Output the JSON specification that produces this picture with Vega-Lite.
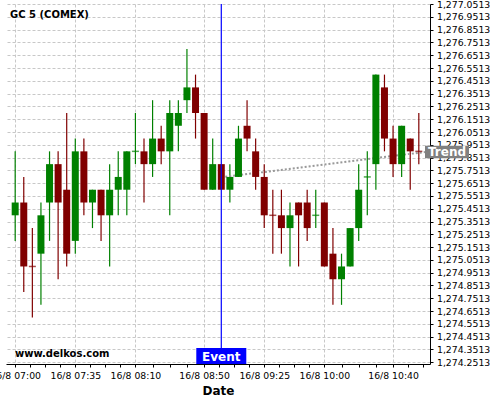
{
  "$schema": "https://vega.github.io/schema/vega-lite/v6.json",
  "autosize": {"type": "none"},
  "padding": {"left": 6, "top": 4, "right": 70, "bottom": 36},
  "width": 424,
  "height": 360,
  "background": "white",
  "config": {
    "view": {"stroke": null},
    "font": "DejaVu Sans",
    "axis": {"labelFont": "DejaVu Sans", "titleFont": "DejaVu Sans"}
  },
  "datasets": {
    "candles": [
      {"time": "2016-08-16 07:00", "open": 1275.4, "high": 1275.9, "low": 1275.2, "close": 1275.5, "dir": "up"},
      {"time": "2016-08-16 07:05", "open": 1275.5, "high": 1275.7, "low": 1274.8, "close": 1275.0, "dir": "down"},
      {"time": "2016-08-16 07:10", "open": 1275.0, "high": 1275.3, "low": 1274.6, "close": 1275.0, "dir": "down"},
      {"time": "2016-08-16 07:15", "open": 1275.1, "high": 1275.5, "low": 1274.7, "close": 1275.4, "dir": "up"},
      {"time": "2016-08-16 07:20", "open": 1275.5, "high": 1275.9, "low": 1275.2, "close": 1275.8, "dir": "up"},
      {"time": "2016-08-16 07:25", "open": 1275.8, "high": 1275.9, "low": 1274.9, "close": 1275.5, "dir": "down"},
      {"time": "2016-08-16 07:30", "open": 1275.6, "high": 1276.2, "low": 1275.0, "close": 1275.1, "dir": "down"},
      {"time": "2016-08-16 07:35", "open": 1275.2, "high": 1276.0, "low": 1275.1, "close": 1275.9, "dir": "up"},
      {"time": "2016-08-16 07:40", "open": 1275.9, "high": 1276.0, "low": 1275.4, "close": 1275.5, "dir": "down"},
      {"time": "2016-08-16 07:45", "open": 1275.5, "high": 1275.6, "low": 1275.3, "close": 1275.6, "dir": "up"},
      {"time": "2016-08-16 07:50", "open": 1275.6, "high": 1275.6, "low": 1275.2, "close": 1275.4, "dir": "down"},
      {"time": "2016-08-16 07:55", "open": 1275.4, "high": 1275.8, "low": 1275.0, "close": 1275.6, "dir": "up"},
      {"time": "2016-08-16 08:00", "open": 1275.6, "high": 1275.9, "low": 1275.4, "close": 1275.7, "dir": "up"},
      {"time": "2016-08-16 08:05", "open": 1275.6, "high": 1275.9, "low": 1275.4, "close": 1275.9, "dir": "up"},
      {"time": "2016-08-16 08:10", "open": 1275.9, "high": 1276.2, "low": 1275.8, "close": 1275.9, "dir": "up"},
      {"time": "2016-08-16 08:15", "open": 1275.9, "high": 1276.0, "low": 1275.5, "close": 1275.8, "dir": "down"},
      {"time": "2016-08-16 08:20", "open": 1275.8, "high": 1276.3, "low": 1275.7, "close": 1276.0, "dir": "up"},
      {"time": "2016-08-16 08:25", "open": 1276.0, "high": 1276.1, "low": 1275.8, "close": 1275.9, "dir": "down"},
      {"time": "2016-08-16 08:30", "open": 1275.9, "high": 1276.3, "low": 1275.4, "close": 1276.2, "dir": "up"},
      {"time": "2016-08-16 08:35", "open": 1276.1, "high": 1276.3, "low": 1275.9, "close": 1276.2, "dir": "up"},
      {"time": "2016-08-16 08:40", "open": 1276.3, "high": 1276.7, "low": 1276.2, "close": 1276.4, "dir": "up"},
      {"time": "2016-08-16 08:45", "open": 1276.4, "high": 1276.5, "low": 1276.0, "close": 1276.2, "dir": "down"},
      {"time": "2016-08-16 08:50", "open": 1276.2, "high": 1276.2, "low": 1275.6, "close": 1275.6, "dir": "down"},
      {"time": "2016-08-16 08:55", "open": 1275.6, "high": 1276.0, "low": 1275.6, "close": 1275.8, "dir": "up"},
      {"time": "2016-08-16 09:00", "open": 1275.8, "high": 1275.8, "low": 1275.6, "close": 1275.6, "dir": "down"},
      {"time": "2016-08-16 09:05", "open": 1275.6, "high": 1275.8, "low": 1275.5, "close": 1275.7, "dir": "up"},
      {"time": "2016-08-16 09:10", "open": 1275.7, "high": 1276.1, "low": 1275.7, "close": 1276.0, "dir": "up"},
      {"time": "2016-08-16 09:15", "open": 1276.1, "high": 1276.3, "low": 1275.9, "close": 1276.0, "dir": "down"},
      {"time": "2016-08-16 09:20", "open": 1275.9, "high": 1276.0, "low": 1275.6, "close": 1275.7, "dir": "down"},
      {"time": "2016-08-16 09:25", "open": 1275.7, "high": 1275.8, "low": 1275.3, "close": 1275.4, "dir": "down"},
      {"time": "2016-08-16 09:30", "open": 1275.4, "high": 1275.6, "low": 1275.1, "close": 1275.4, "dir": "down"},
      {"time": "2016-08-16 09:35", "open": 1275.4, "high": 1275.6, "low": 1275.1, "close": 1275.3, "dir": "down"},
      {"time": "2016-08-16 09:40", "open": 1275.3, "high": 1275.5, "low": 1275.0, "close": 1275.4, "dir": "up"},
      {"time": "2016-08-16 09:45", "open": 1275.5, "high": 1275.5, "low": 1275.0, "close": 1275.4, "dir": "down"},
      {"time": "2016-08-16 09:50", "open": 1275.5, "high": 1275.6, "low": 1275.2, "close": 1275.3, "dir": "down"},
      {"time": "2016-08-16 09:55", "open": 1275.4, "high": 1275.6, "low": 1275.3, "close": 1275.4, "dir": "up"},
      {"time": "2016-08-16 10:00", "open": 1275.5, "high": 1275.5, "low": 1275.0, "close": 1275.0, "dir": "down"},
      {"time": "2016-08-16 10:05", "open": 1275.1, "high": 1275.3, "low": 1274.7, "close": 1274.9, "dir": "down"},
      {"time": "2016-08-16 10:10", "open": 1274.9, "high": 1275.1, "low": 1274.7, "close": 1275.0, "dir": "up"},
      {"time": "2016-08-16 10:15", "open": 1275.0, "high": 1275.3, "low": 1275.0, "close": 1275.3, "dir": "up"},
      {"time": "2016-08-16 10:20", "open": 1275.3, "high": 1275.8, "low": 1275.2, "close": 1275.6, "dir": "up"},
      {"time": "2016-08-16 10:25", "open": 1275.7, "high": 1275.9, "low": 1275.4, "close": 1275.7, "dir": "up"},
      {"time": "2016-08-16 10:30", "open": 1275.8, "high": 1276.5, "low": 1275.6, "close": 1276.5, "dir": "up"},
      {"time": "2016-08-16 10:35", "open": 1276.4, "high": 1276.5, "low": 1275.9, "close": 1276.0, "dir": "down"},
      {"time": "2016-08-16 10:40", "open": 1276.0, "high": 1276.1, "low": 1275.7, "close": 1275.8, "dir": "down"},
      {"time": "2016-08-16 10:45", "open": 1275.8, "high": 1276.1, "low": 1275.7, "close": 1276.1, "dir": "up"},
      {"time": "2016-08-16 10:50", "open": 1276.0, "high": 1276.0, "low": 1275.6, "close": 1275.9, "dir": "down"},
      {"time": "2016-08-16 10:55", "open": 1275.9, "high": 1276.2, "low": 1275.8, "close": 1275.9, "dir": "down"}
    ],
    "trend": [
      {"time": "2016-08-16 09:00", "value": 1275.697},
      {"time": "2016-08-16 10:58:36", "value": 1275.895}
    ],
    "trendLabel": [
      {"time": "2016-08-16 10:58:36", "value": 1275.895, "label": "Trend"}
    ],
    "event": [
      {"time": "2016-08-16 09:00", "label": "Event"}
    ]
  },
  "layer": [
    {
      "data": {"name": "candles"},
      "mark": {"type": "rule", "strokeWidth": 1.2},
      "encoding": {
        "x": {
          "field": "time", "type": "temporal",
          "scale": {
            "domain": [
              {"year": 2016, "month": 8, "date": 16, "hours": 6, "minutes": 57, "seconds": 34},
              {"year": 2016, "month": 8, "date": 16, "hours": 10, "minutes": 58, "seconds": 36}
            ],
            "nice": false
          },
          "axis": {
            "title": "Date",
            "titleFontSize": 12,
            "titleFontWeight": "bold",
            "titleColor": "black",
            "titlePadding": 5,
            "tickCount": 200,
            "values": [
              {"year": 2016, "month": 8, "date": 16, "hours": 7, "minutes": 0},
              {"year": 2016, "month": 8, "date": 16, "hours": 7, "minutes": 8, "seconds": 45},
              {"year": 2016, "month": 8, "date": 16, "hours": 7, "minutes": 17, "seconds": 30},
              {"year": 2016, "month": 8, "date": 16, "hours": 7, "minutes": 26, "seconds": 15},
              {"year": 2016, "month": 8, "date": 16, "hours": 7, "minutes": 35},
              {"year": 2016, "month": 8, "date": 16, "hours": 7, "minutes": 43, "seconds": 45},
              {"year": 2016, "month": 8, "date": 16, "hours": 7, "minutes": 52, "seconds": 30},
              {"year": 2016, "month": 8, "date": 16, "hours": 8, "minutes": 1, "seconds": 15},
              {"year": 2016, "month": 8, "date": 16, "hours": 8, "minutes": 10},
              {"year": 2016, "month": 8, "date": 16, "hours": 8, "minutes": 20},
              {"year": 2016, "month": 8, "date": 16, "hours": 8, "minutes": 30},
              {"year": 2016, "month": 8, "date": 16, "hours": 8, "minutes": 40},
              {"year": 2016, "month": 8, "date": 16, "hours": 8, "minutes": 50},
              {"year": 2016, "month": 8, "date": 16, "hours": 8, "minutes": 58, "seconds": 45},
              {"year": 2016, "month": 8, "date": 16, "hours": 9, "minutes": 7, "seconds": 30},
              {"year": 2016, "month": 8, "date": 16, "hours": 9, "minutes": 16, "seconds": 15},
              {"year": 2016, "month": 8, "date": 16, "hours": 9, "minutes": 25},
              {"year": 2016, "month": 8, "date": 16, "hours": 9, "minutes": 33, "seconds": 45},
              {"year": 2016, "month": 8, "date": 16, "hours": 9, "minutes": 42, "seconds": 30},
              {"year": 2016, "month": 8, "date": 16, "hours": 9, "minutes": 51, "seconds": 15},
              {"year": 2016, "month": 8, "date": 16, "hours": 10, "minutes": 0},
              {"year": 2016, "month": 8, "date": 16, "hours": 10, "minutes": 10},
              {"year": 2016, "month": 8, "date": 16, "hours": 10, "minutes": 20},
              {"year": 2016, "month": 8, "date": 16, "hours": 10, "minutes": 30},
              {"year": 2016, "month": 8, "date": 16, "hours": 10, "minutes": 40},
              {"year": 2016, "month": 8, "date": 16, "hours": 10, "minutes": 48, "seconds": 45},
              {"year": 2016, "month": 8, "date": 16, "hours": 10, "minutes": 57, "seconds": 30}
            ],
            "labelExpr": "(indexof([420,455,490,530,565,600,640], hours(datum.value)*60+minutes(datum.value)) >= 0 && seconds(datum.value) == 0) ? date(datum.value) + '/' + (month(datum.value)+1) + ' ' + timeFormat(datum.value, '%H:%M') : ''",
            "labelOverlap": false,
            "labelFlush": false,
            "labelFontSize": 9.3,
            "labelColor": "black",
            "labelPadding": 4,
            "tickSize": 3,
            "tickColor": "black",
            "domainColor": "black",
            "domainWidth": 1,
            "grid": true,
            "gridColor": "#c8c8c8",
            "gridDash": [3, 2],
            "gridOpacity": {"condition": {"test": "indexof([420,455,490,530,565,600,640], hours(datum.value)*60+minutes(datum.value)) >= 0 && seconds(datum.value) == 0", "value": 1}, "value": 0}
          }
        },
        "y": {
          "field": "low", "type": "quantitative",
          "scale": {"domain": [1274.2374, 1277.0521], "nice": false, "zero": false},
          "axis": {
            "orient": "right",
            "title": null,
            "tickCount": 200,
            "values": [1274.2513, 1274.3513, 1274.4513, 1274.5513, 1274.6513, 1274.7513, 1274.8513, 1274.9513, 1275.0513, 1275.1513, 1275.2513, 1275.3513, 1275.4513, 1275.5513, 1275.6513, 1275.7513, 1275.8513, 1275.9513, 1276.0513, 1276.1513, 1276.2513, 1276.3513, 1276.4513, 1276.5513, 1276.6513, 1276.7513, 1276.8513, 1276.9513, 1277.0513],
            "format": ",.4f",
            "labelOverlap": false,
            "labelFlush": false,
            "labelFontSize": 9.3,
            "labelColor": "black",
            "labelPadding": 3.5,
            "tickSize": 3,
            "tickColor": "black",
            "domainColor": "black",
            "domainWidth": 1,
            "grid": true,
            "gridColor": "#c8c8c8",
            "gridDash": [3, 2]
          }
        },
        "y2": {"field": "high"},
        "color": {"field": "dir", "type": "nominal", "scale": {"domain": ["up", "down"], "range": ["#008000", "#800000"]}, "legend": null}
      }
    },
    {
      "data": {"name": "trend"},
      "mark": {"type": "line", "color": "#999999", "strokeWidth": 2, "strokeDash": [2, 2]},
      "encoding": {
        "x": {"field": "time", "type": "temporal"},
        "y": {"field": "value", "type": "quantitative"}
      }
    },
    {
      "data": {"name": "candles"},
      "mark": {"type": "bar", "size": 7},
      "encoding": {
        "x": {"field": "time", "type": "temporal"},
        "y": {"field": "open", "type": "quantitative"},
        "y2": {"field": "close"},
        "color": {"field": "dir", "type": "nominal", "legend": null}
      }
    },
    {
      "data": {"name": "candles"},
      "transform": [{"filter": "datum.open == datum.close"}],
      "mark": {"type": "tick", "orient": "horizontal", "size": 7, "thickness": 1.5},
      "encoding": {
        "x": {"field": "time", "type": "temporal"},
        "y": {"field": "open", "type": "quantitative"},
        "color": {"field": "dir", "type": "nominal", "legend": null}
      }
    },
    {
      "data": {"name": "event"},
      "mark": {"type": "rule", "color": "#0000ff", "strokeWidth": 1.2},
      "encoding": {
        "x": {"field": "time", "type": "temporal"}
      }
    },
    {
      "data": {"name": "event"},
      "mark": {"type": "rect", "color": "#0000ff", "xOffset": -25, "x2Offset": 25, "y": {"expr": "height - 16"}, "y2": {"expr": "height"}},
      "encoding": {
        "x": {"field": "time", "type": "temporal"},
        "x2": {"field": "time"}
      }
    },
    {
      "data": {"name": "event"},
      "mark": {"type": "text", "color": "white", "font": "DejaVu Sans", "fontWeight": "bold", "fontSize": 12, "align": "center", "baseline": "middle", "y": {"expr": "height"}, "dy": -7.5},
      "encoding": {
        "x": {"field": "time", "type": "temporal"},
        "text": {"field": "label"}
      }
    },
    {
      "data": {"name": "trendLabel"},
      "mark": {"type": "rect", "color": "#808080", "x2Offset": 44, "yOffset": -6.3, "y2Offset": 6.3},
      "encoding": {
        "x": {"field": "time", "type": "temporal"},
        "x2": {"field": "time"},
        "y": {"field": "value", "type": "quantitative"},
        "y2": {"field": "value"}
      }
    },
    {
      "data": {"name": "trendLabel"},
      "mark": {"type": "text", "color": "white", "font": "DejaVu Sans", "fontWeight": "bold", "fontSize": 12, "align": "center", "baseline": "middle", "dx": 22},
      "encoding": {
        "x": {"field": "time", "type": "temporal"},
        "y": {"field": "value", "type": "quantitative"},
        "text": {"field": "label"}
      }
    },
    {
      "data": {"values": [{"label": "GC 5 (COMEX)"}]},
      "mark": {"type": "text", "x": 0, "y": 0, "dx": 4, "dy": 11, "align": "left", "baseline": "middle", "font": "DejaVu Sans", "fontWeight": "bold", "fontSize": 10, "color": "black"},
      "encoding": {"text": {"field": "label"}}
    },
    {
      "data": {"values": [{"label": "www.delkos.com"}]},
      "mark": {"type": "text", "x": 0, "y": {"expr": "height"}, "dx": 9, "dy": -10, "align": "left", "baseline": "middle", "font": "DejaVu Sans", "fontWeight": "bold", "fontSize": 10, "color": "black"},
      "encoding": {"text": {"field": "label"}}
    }
  ]
}
